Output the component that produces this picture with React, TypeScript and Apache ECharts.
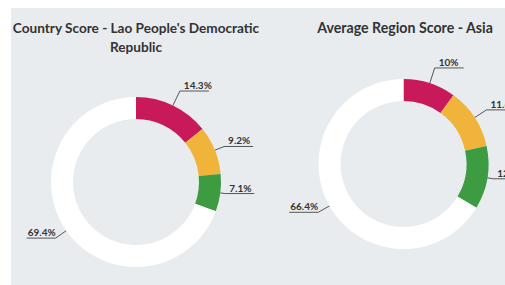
import React, { useEffect, useRef } from "react";
import * as echarts from "echarts";

const sliceNames = ["Red", "Amber", "Green", "Remaining"];
const sliceColors = ["#c8195b", "#f0b43a", "#3d9b42", "#ffffff"];
const countryValues = [14.3, 9.2, 7.1, 69.4];
const regionValues = [10, 11.6, 12, 66.4];
const countryTitle = "Country Score - Lao People's Democratic\nRepublic";
const regionTitle = "Average Region Score - Asia";

// leader-line first-segment lengths (styling, per slice)
const countryLeader = [16, 10, 5, 13];
const regionLeader = [16, 14, 6, 13];

const FONT = "Lato, 'Open Sans', sans-serif";

function buildData(values: number[], leaders: number[]) {
  return values.map((v, i) => ({
    name: sliceNames[i],
    value: v,
    itemStyle: { color: sliceColors[i] },
    labelLine: { length: leaders[i] },
  }));
}

const labelLayout = (params: any) => {
  const pts = params.labelLinePoints;
  if (!pts) return {};
  const p1 = pts[1];
  const p2 = pts[2];
  const right = p2[0] >= p1[0];
  const w = params.labelRect ? params.labelRect.width : 24;
  const mx = right ? p1[0] + 4 + w / 2 : p1[0] - w / 2;
  return {
    x: mx,
    y: p2[1] - 1,
    align: "center",
    verticalAlign: "bottom",
    labelLinePoints: pts,
  };
};

function pieSeries(values: number[], leaders: number[], center: [number, number]) {
  return {
    type: "pie",
    center,
    radius: [63, 85],
    startAngle: 90,
    clockwise: true,
    avoidLabelOverlap: false,
    data: buildData(values, leaders),
    label: {
      show: true,
      position: "outside",
      formatter: (p: any) => `${p.value}%`,
      fontFamily: FONT,
      fontSize: 10,
      fontWeight: "bold",
      color: "#333333",
    },
    labelLine: {
      show: true,
      length: 14,
      length2: 29,
      lineStyle: { color: "#555555", width: 1 },
    },
    labelLayout,
    emphasis: { disabled: true },
  };
}

export default function App() {
  const ref = useRef<HTMLDivElement>(null);
  useEffect(() => {
    document.body.style.margin = "0";
    if (!ref.current) return;
    const chart = echarts.init(ref.current, undefined, { renderer: "svg" });
    const titleStyle = {
      fontFamily: FONT,
      fontSize: 13.6,
      fontWeight: "bold",
      color: "#333333",
      lineHeight: 19,
    };
    chart.setOption({
      animation: false,
      backgroundColor: "#e9ecef",
      title: [
        { text: countryTitle, left: 125, top: 10, padding: 0, textAlign: "center", textStyle: titleStyle },
        {
          text: regionTitle,
          left: 394,
          top: 10,
          padding: 0,
          textAlign: "center",
          textStyle: { ...titleStyle, fontSize: 14.2 },
        },
      ],
      series: [
        pieSeries(countryValues, countryLeader, [125, 174]),
        pieSeries(regionValues, regionLeader, [392.5, 156]),
      ],
    });
    return () => chart.dispose();
  }, []);
  return (
    <div
      style={{
        position: "fixed",
        left: 0,
        top: 0,
        width: 505,
        height: 285,
        background: "#ffffff",
        overflow: "hidden",
      }}
    >
      <div
        ref={ref}
        style={{ position: "absolute", left: 11, top: 8, width: 494, height: 277 }}
      />
    </div>
  );
}
